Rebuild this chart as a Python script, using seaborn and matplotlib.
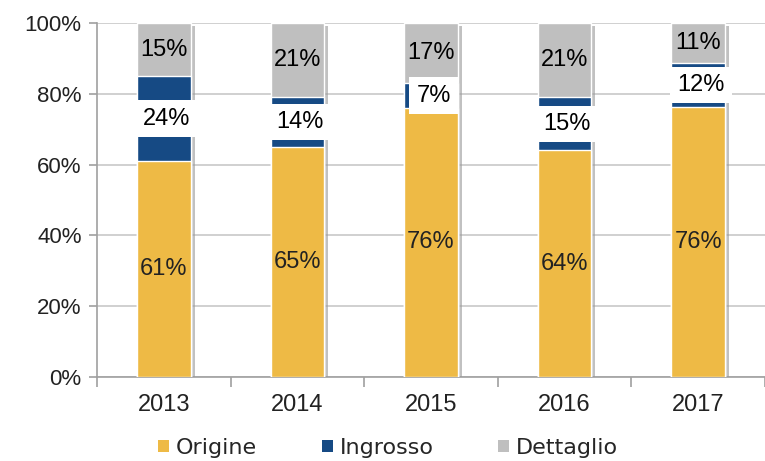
import matplotlib
matplotlib.use("Agg")
import matplotlib.pyplot as plt
import matplotlib.patheffects as pe
from matplotlib.patches import Patch
import seaborn as sns
import pandas as pd
import numpy as np

years = ["2013", "2014", "2015", "2016", "2017"]
origine = [61, 65, 76, 64, 76.3]
ingrosso = [24, 14, 7, 15, 12.4]
dettaglio = [15, 21, 17, 21, 11.3]
series_names = ["Origine", "Ingrosso", "Dettaglio"]
colors = ["#EEBA45", "#164A84", "#BFBFBF"]

sns.set_theme(style="white")
plt.rcParams['font.family'] = ['Liberation Sans', 'DejaVu Sans']

o = np.array(origine, float)
i = np.array(ingrosso, float)
d = np.array(dettaglio, float)
top_d = np.minimum(o + i + d, 100)
df = pd.DataFrame({"year": years, "o": o, "oi": o + i, "oid": top_d})

fig = plt.figure(figsize=(7.65, 4.61), dpi=100)
ax = fig.add_axes([97 / 765, 1 - 377 / 461, (765 - 97) / 765, (377 - 23) / 461])

for col, c in [("oid", colors[2]), ("oi", colors[1]), ("o", colors[0])]:
    sns.barplot(data=df, x="year", y=col, color=c, width=0.4, saturation=1, ax=ax, zorder=3)

n_bars = len(years)
for p in ax.patches[:n_bars]:
    p.set_path_effects([pe.SimplePatchShadow(offset=(3, -2), shadow_rgbFace="#999999", alpha=0.6), pe.Normal()])

ax.set_ylim(0, 100)
ax.set_xlim(-0.5, 4.34)
ax.set_yticks([0, 20, 40, 60, 80, 100])
ax.set_yticklabels([f"{v}%" for v in [0, 20, 40, 60, 80, 100]], fontsize=16, color="#222222")
ax.yaxis.grid(True, color="#C8C8C8", linewidth=1.2, zorder=0)
ax.set_axisbelow(True)
ax.set_xlabel("")
ax.set_ylabel("")
ax.tick_params(axis="x", labelsize=17, colors="#222222", pad=12, length=0)
ax.tick_params(axis="y", left=True, length=6, color="#A0A0A0", width=1.2, pad=5)
ax.set_xticks(np.arange(-0.5, 4.6, 1.0), minor=True)
ax.tick_params(axis="x", which="minor", bottom=True, length=7, color="#A0A0A0", width=1.2)
for s in ["top", "right"]:
    ax.spines[s].set_visible(False)
for s in ["left", "bottom"]:
    ax.spines[s].set_color("#A0A0A0")
    ax.spines[s].set_linewidth(1.2)

for k in range(n_bars):
    ax.text(k, o[k] / 2, f"{round(origine[k])}%", ha="center", va="center", fontsize=17, color="#222222", zorder=5)
    ax.text(k + 0.02, o[k] + i[k] / 2, f"{round(ingrosso[k])}%", ha="center", va="center", fontsize=17, color="black",
            zorder=6, bbox=dict(boxstyle="square,pad=0.3", facecolor="white", edgecolor="none"))
    ax.text(k, (o[k] + i[k] + top_d[k]) / 2, f"{round(dettaglio[k])}%", ha="center", va="center", fontsize=17,
            color="black", zorder=5)

handles = [Patch(facecolor=c, edgecolor="none") for c in colors]
fig.legend(handles, series_names, loc="center", bbox_to_anchor=(388 / 765, 13 / 461), ncol=3, frameon=False,
           prop={"family": "DejaVu Sans", "size": 16}, handlelength=0.5, handleheight=0.5,
           handletextpad=0.3, columnspacing=2.9, borderaxespad=0, borderpad=0)

fig.savefig("out.png", dpi=100)
